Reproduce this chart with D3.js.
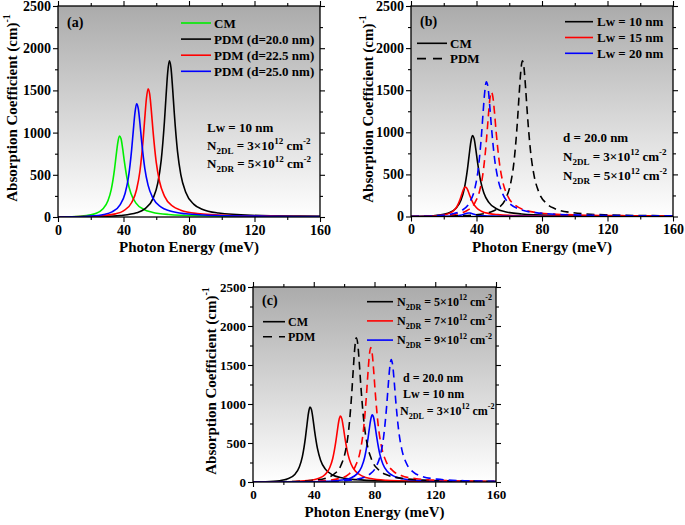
<!DOCTYPE html>
<html><head><meta charset="utf-8">
<script src="https://cdn.jsdelivr.net/npm/d3@7"></script>
<style>
body{margin:0;background:#fff}
svg{display:block}
text{font-family:"Liberation Serif","Times New Roman",serif;font-weight:bold;fill:#000}
</style>
</head><body>
<svg id="chart" width="685" height="525"></svg>
<script>
// ---------- data ----------
const xTicks = [0, 40, 80, 120, 160];
const xMinor = [20, 60, 100, 140];
const yTicks = [0, 500, 1000, 1500, 2000, 2500];
const yMinor = [250, 750, 1250, 1750, 2250];

// CM, Lw = 10 nm, d = 20 nm, N2DR = 5e12
const cmE = [0,7.5,17.5,22.5,27.5,30.5,32.5,34.5,35.5,36.5,37.5,38.5,39.5,40.5,42.5,44.5,47.5,52.5,57.5,67.5,87.5,117.5,160];
const cmA = [0,3,17,38,97,192,325,565,727,879,960,928,809,663,424,280,168,89,57,30,14,7,4];
// PDM d = 20.0 nm (Lw = 10 nm, N2DR = 5e12)
const pdm20E = [0,28,38,48,53,58,61,63,65,66,67,68,69,70,71,73,75,78,83,88,98,118,148,160];
const pdm20A = [0,7,18,50,96,218,408,668,1132,1437,1715,1850,1767,1523,1236,775,502,293,150,92,47,20,10,8];
// PDM d = 22.5 nm
const pdm225E = [0,15,25,35,40,45,48,50,52,53,54,55,56,57,58,60,62,65,70,75,85,105,135,160];
const pdm225A = [0,4,12,37,73,172,326,539,920,1172,1404,1520,1456,1260,1026,647,421,248,128,80,41,18,9,6];
// PDM d = 25.0 nm
const pdm25E = [0,8,18,28,33,38,41,43,45,46,47,48,49,50,51,53,55,58,63,68,78,98,128,160];
const pdm25A = [0,2,9,30,61,146,282,468,804,1027,1235,1340,1287,1117,911,577,378,223,117,73,38,17,9,6];
// (b) CM Lw = 15, 20 nm
const cmLw15E = [0,3,13,18,23,26,28,30,31,32,33,34,35,36,38,40,43,48,53,63,83,113,160];
const cmLw15A = [0,0.6,5,13,34,68,116,204,263,320,350,339,297,244,157,104,63,34,22,12,6,3,2];
const cmLw20E = [0,15,20,25,28,30,32,33,34,35,36,37,38,40,42,45,50,55,65,85,160];
const cmLw20A = [0,0.7,1.6,4.1,8.3,14,24.6,31.7,38.4,42,40.7,35.5,29.2,18.7,12.4,7.5,4,2.5,1.4,0.65,0.2];
// (b) PDM Lw = 15, 20 nm
const pdmLw15E = [0,9,19,29,34,39,42,44,46,47,48,49,50,51,52,54,56,59,64,69,79,99,129,160];
const pdmLw15A = [0,3,10,34,68,163,312,518,889,1135,1365,1480,1421,1233,1005,636,416,246,128,80,42,19,10,6];
const pdmLw20E = [0,6,16,26,31,36,39,41,43,44,45,46,47,48,49,51,53,56,61,66,76,96,126,160];
const pdmLw20A = [0,2,10,35,72,173,334,556,957,1225,1473,1600,1539,1336,1091,692,454,269,141,88,46,21,11,7];
// (c) CM N2DR = 7e12, 9e12
const cmN7E = [0,17.5,27.5,37.5,42.5,47.5,50.5,52.5,54.5,55.5,56.5,57.5,58.5,59.5,60.5,62.5,64.5,67.5,72.5,77.5,87.5,107.5,137.5,160];
const cmN7A = [0,2.5,7,21,41,96,183,301,513,652,782,845,809,700,569,358,233,137,71,44,22,10,5,4];
const cmN9E = [0,38.5,48.5,58.5,63.5,68.5,71.5,73.5,75.5,76.5,77.5,78.5,79.5,80.5,81.5,83.5,85.5,88.5,93.5,98.5,108.5,128.5,160];
const cmN9A = [0,4,9,25,46,104,193,314,529,671,799,860,820,705,571,357,230,134,68,42,21,9,4];
// (c) PDM N2DR = 7e12, 9e12
const pdmN7E = [0,37.5,47.5,57.5,62.5,67.5,70.5,72.5,74.5,75.5,76.5,77.5,78.5,79.5,80.5,82.5,84.5,87.5,92.5,97.5,107.5,127.5,160];
const pdmN7A = [0,8,18,49,92,207,386,629,1061,1344,1602,1725,1644,1416,1147,716,462,269,137,84,42,18,8];
const pdmN9E = [0,31,51,61,71,76,81,84,86,88,89,90,91,92,93,94,96,98,101,106,111,121,141,160];
const pdmN9A = [0,2,9,18,47,87,193,356,579,972,1228,1461,1570,1494,1284,1038,646,416,240,121,74,37,15,9];

const zip = (E, A) => E.map((e, i) => [e, A[i]]);

// ---------- rendering ----------
const svg = d3.select("#chart");
const defs = svg.append("defs");
const grad = defs.append("linearGradient").attr("id", "bg").attr("x1", 0).attr("y1", 0).attr("x2", 0).attr("y2", 1);
grad.append("stop").attr("offset", "0%").attr("stop-color", "#ababab");
grad.append("stop").attr("offset", "100%").attr("stop-color", "#ffffff");

function rich(sel, parts, size) {
  // parts: [text, mode] mode: 0 normal, 1 sub, 2 sup
  let off = 0;
  const small = Math.round(size * 0.68);
  const sh = size / 13;
  parts.forEach(([t, m]) => {
    const target = m === 1 ? 4 * sh : m === 2 ? -6 * sh : 0;
    sel.append("tspan").attr("dy", target - off).attr("font-size", m ? small : size).text(t);
    off = target;
  });
}

function panel(cfg) {
  const g = svg.append("g");
  const x = d3.scaleLinear().domain([0, 160]).range([cfg.l, cfg.r]);
  const y = d3.scaleLinear().domain([0, 2500]).range([cfg.b, cfg.t]);
  const clipId = "clip" + cfg.id;
  defs.append("clipPath").attr("id", clipId).append("rect")
    .attr("x", cfg.l).attr("y", cfg.t).attr("width", cfg.r - cfg.l).attr("height", cfg.b - cfg.t);
  g.append("rect").attr("x", cfg.l).attr("y", cfg.t).attr("width", cfg.r - cfg.l).attr("height", cfg.b - cfg.t)
    .attr("fill", "url(#bg)");

  const line = d3.line().x(d => x(d[0])).y(d => y(d[1])).curve(d3.curveMonotoneX);
  const cg = g.append("g").attr("clip-path", `url(#${clipId})`);
  cfg.series.forEach(s => {
    cg.append("path").attr("d", line(s.data)).attr("fill", "none").attr("stroke", s.color)
      .attr("stroke-width", 1.6).attr("stroke-dasharray", s.dash ? "8,5" : null);
  });

  // axes
  const fs = cfg.tickFont;
  const fmt = d3.format("d");
  const styleAxis = a => { a.select(".domain").remove(); a.selectAll("line").attr("stroke", "#000").attr("stroke-width", 1.1); a.attr("font-family", null).attr("font-size", null); };
  const ax = [
    [d3.axisBottom(x).tickValues(xTicks).tickSize(5).tickPadding(3).tickFormat(fmt), `translate(0,${cfg.b})`, true],
    [d3.axisBottom(x).tickValues(xMinor).tickSize(3).tickFormat(""), `translate(0,${cfg.b})`],
    [d3.axisTop(x).tickValues(xTicks).tickSize(5).tickFormat(""), `translate(0,${cfg.t})`],
    [d3.axisTop(x).tickValues(xMinor).tickSize(3).tickFormat(""), `translate(0,${cfg.t})`],
    [d3.axisLeft(y).tickValues(yTicks).tickSize(5).tickPadding(2).tickFormat(fmt), `translate(${cfg.l},0)`, true],
    [d3.axisLeft(y).tickValues(yMinor).tickSize(3).tickFormat(""), `translate(${cfg.l},0)`],
    [d3.axisRight(y).tickValues(yTicks).tickSize(5).tickFormat(""), `translate(${cfg.r},0)`],
    [d3.axisRight(y).tickValues(yMinor).tickSize(3).tickFormat(""), `translate(${cfg.r},0)`]
  ];
  ax.forEach(([a, tr, lab]) => {
    const s = g.append("g").attr("transform", tr).call(a);
    styleAxis(s);
    if (lab) s.selectAll("text").attr("font-size", fs).attr("fill", "#000");
  });
  g.append("rect").attr("x", cfg.l).attr("y", cfg.t).attr("width", cfg.r - cfg.l).attr("height", cfg.b - cfg.t)
    .attr("fill", "none").attr("stroke", "#000").attr("stroke-width", 1.3);

  // titles
  g.append("text").attr("x", (cfg.l + cfg.r) / 2).attr("y", cfg.b + 35).attr("text-anchor", "middle")
    .attr("font-size", 15).text("Photon Energy (meV)");
  const yt = g.append("text").attr("transform", `translate(${cfg.ytx},${cfg.yty}) rotate(-90)`)
    .attr("text-anchor", "middle");
  rich(yt, [["Absorption Coefficient (cm)", 0], ["-1", 2]], 15);

  // panel label
  g.append("text").attr("x", cfg.label[1]).attr("y", cfg.label[2]).attr("font-size", 14).text(cfg.label[0]);

  const tf = cfg.textFont;
  // legends
  cfg.legends.forEach(L => {
    L.items.forEach((it, i) => {
      const yy = L.y + i * L.dy;
      g.append("line").attr("x1", L.x1).attr("x2", L.x2).attr("y1", yy).attr("y2", yy)
        .attr("stroke", it.color).attr("stroke-width", 1.6).attr("stroke-dasharray", it.dash ? "9,7" : null);
      const t = g.append("text").attr("x", L.tx).attr("y", yy + tf * 0.35);
      rich(t, it.text, tf);
    });
  });
  // annotations
  cfg.notes.forEach(n => {
    const t = g.append("text").attr("x", n.x).attr("y", n.y);
    rich(t, n.text, tf);
  });
}

const nL = v => [["N", 0], ["2DL", 1], [" = " + v + "×10", 0], ["12", 2], [" cm", 0], ["-2", 2]];
const nR = v => [["N", 0], ["2DR", 1], [" = " + v + "×10", 0], ["12", 2], [" cm", 0], ["-2", 2]];

panel({
  id: "a", l: 58, r: 320, t: 6, b: 217, tickFont: 14, textFont: 13, ytx: 17, yty: 108,
  label: ["(a)", 67, 27],
  series: [
    { data: zip(cmE, cmA), color: "#00ee00" },
    { data: zip(pdm20E, pdm20A), color: "#000000" },
    { data: zip(pdm225E, pdm225A), color: "#ff0000" },
    { data: zip(pdm25E, pdm25A), color: "#0000ff" }
  ],
  legends: [{ x1: 181, x2: 211, tx: 214, y: 23, dy: 16.1, items: [
    { color: "#00ee00", text: [["CM", 0]] },
    { color: "#000000", text: [["PDM (d=20.0 nm)", 0]] },
    { color: "#ff0000", text: [["PDM (d=22.5 nm)", 0]] },
    { color: "#0000ff", text: [["PDM (d=25.0 nm)", 0]] }
  ]}],
  notes: [
    { x: 207, y: 132, text: [["Lw = 10 nm", 0]] },
    { x: 207, y: 150, text: nL(3) },
    { x: 207, y: 167.5, text: nR(5) }
  ]
});

panel({
  id: "b", l: 411, r: 673, t: 6, b: 216.5, tickFont: 14, textFont: 13, ytx: 373, yty: 109,
  label: ["(b)", 420, 26],
  series: [
    { data: zip(cmE, cmA), color: "#000000" },
    { data: zip(cmLw15E, cmLw15A), color: "#ff0000" },
    { data: zip(cmLw20E, cmLw20A), color: "#0000ff" },
    { data: zip(pdm20E, pdm20A), color: "#000000", dash: true },
    { data: zip(pdmLw15E, pdmLw15A), color: "#ff0000", dash: true },
    { data: zip(pdmLw20E, pdmLw20A), color: "#0000ff", dash: true }
  ],
  legends: [
    { x1: 417, x2: 447, tx: 450, y: 43.3, dy: 15.3, items: [
      { color: "#000000", text: [["CM", 0]] },
      { color: "#000000", dash: true, text: [["PDM", 0]] }
    ]},
    { x1: 565, x2: 593, tx: 597, y: 21.7, dy: 15.8, items: [
      { color: "#000000", text: [["Lw = 10 nm", 0]] },
      { color: "#ff0000", text: [["Lw = 15 nm", 0]] },
      { color: "#0000ff", text: [["Lw = 20 nm", 0]] }
    ]}
  ],
  notes: [
    { x: 563, y: 142, text: [["d = 20.0 nm", 0]] },
    { x: 563, y: 161, text: nL(3) },
    { x: 563, y: 180, text: nR(5) }
  ]
});

panel({
  id: "c", l: 253, r: 496, t: 287, b: 482, tickFont: 13, textFont: 12, ytx: 216, yty: 381,
  label: ["(c)", 262, 305],
  series: [
    { data: zip(cmE, cmA), color: "#000000" },
    { data: zip(cmN7E, cmN7A), color: "#ff0000" },
    { data: zip(cmN9E, cmN9A), color: "#0000ff" },
    { data: zip(pdm20E, pdm20A), color: "#000000", dash: true },
    { data: zip(pdmN7E, pdmN7A), color: "#ff0000", dash: true },
    { data: zip(pdmN9E, pdmN9A), color: "#0000ff", dash: true }
  ],
  legends: [
    { x1: 263, x2: 285, tx: 288, y: 321.7, dy: 15, items: [
      { color: "#000000", text: [["CM", 0]] },
      { color: "#000000", dash: true, text: [["PDM", 0]] }
    ]},
    { x1: 367, x2: 393, tx: 397, y: 301.7, dy: 19.2, items: [
      { color: "#000000", text: nR(5) },
      { color: "#ff0000", text: nR(7) },
      { color: "#0000ff", text: nR(9) }
    ]}
  ],
  notes: [
    { x: 403, y: 382, text: [["d = 20.0 nm", 0]] },
    { x: 403, y: 398, text: [["Lw = 10 nm", 0]] },
    { x: 400, y: 415, text: nL(3) }
  ]
});
</script>
</body></html>
